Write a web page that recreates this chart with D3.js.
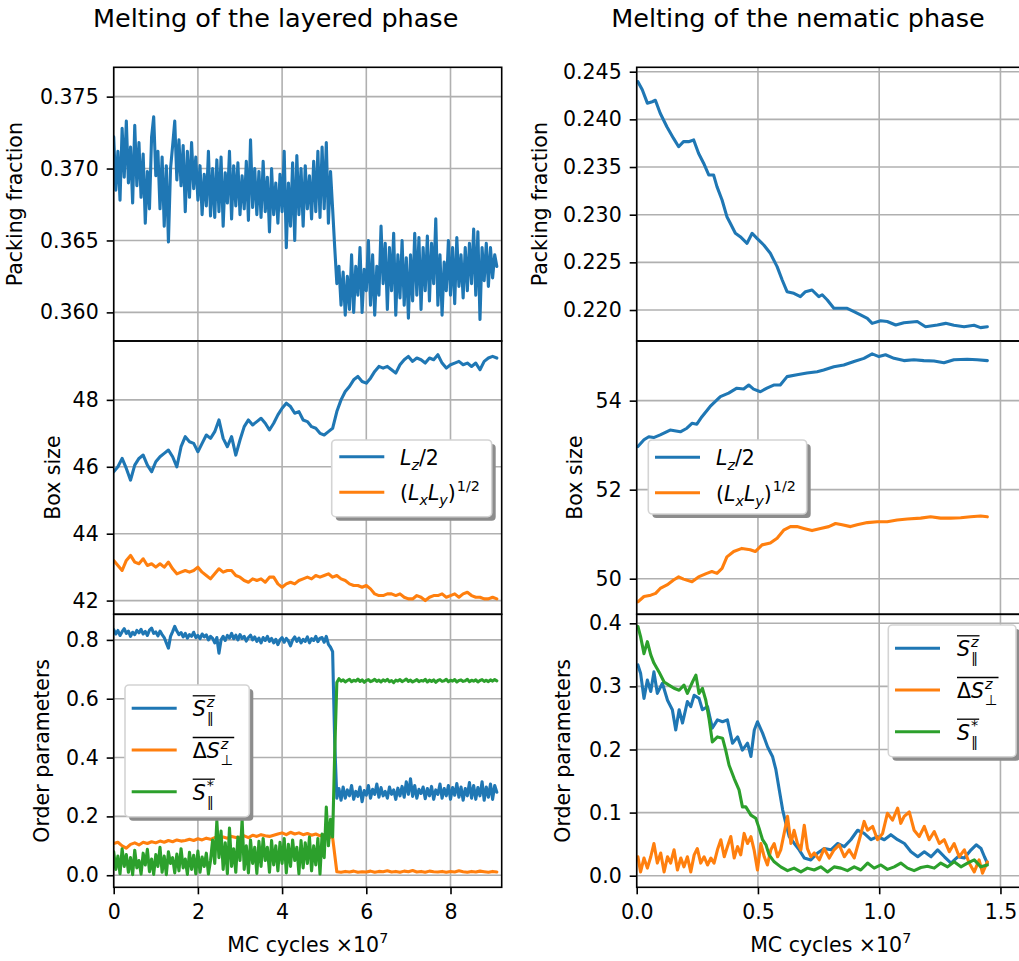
<!DOCTYPE html>
<html lang="en">
<head>
<meta charset="utf-8" />
<title>Melting of layered and nematic phases</title>
<script src="https://cdnjs.cloudflare.com/ajax/libs/d3/7.8.5/d3.min.js"></script>
<style>
  body { margin: 0; background: #ffffff; }
  svg text { font-family: "DejaVu Sans", sans-serif; fill: #000; }
</style>
</head>
<body>
<svg width="1019" height="961"></svg>
<script>
// ---------- data ----------
// layered phase: x in units of 1e7 MC cycles, sampled on regular grids
var layeredPackStep = 0.05;
var layeredPack = [
  0.3722,0.3685,0.3712,0.3678,0.3728,0.3694,0.3733,0.3690,0.3715,0.3676,
  0.3730,0.3688,0.3718,0.3680,0.3710,0.3662,0.3698,0.3672,0.3722,0.3736,
  0.3695,0.3712,0.3672,0.3708,0.3660,0.3702,0.3649,0.3700,0.3716,0.3733,
  0.3692,0.3720,0.3688,0.3716,0.3670,0.3712,0.3680,0.3718,0.3686,0.3708,
  0.3678,0.3702,0.3668,0.3696,0.3674,0.3712,0.3667,0.3700,0.3666,0.3706,
  0.3670,0.3708,0.3660,0.3697,0.3676,0.3712,0.3665,0.3702,0.3674,0.3704,
  0.3668,0.3695,0.3672,0.3705,0.3664,0.3720,0.3673,0.3700,0.3668,0.3698,
  0.3666,0.3705,0.3670,0.3694,0.3656,0.3700,0.3668,0.3690,0.3662,0.3696,
  0.3670,0.3712,0.3645,0.3690,0.3660,0.3704,0.3650,0.3709,0.3668,0.3700,
  0.3660,0.3702,0.3672,0.3695,0.3665,0.3705,0.3670,0.3712,0.3666,0.3715,
  0.3672,0.3718,0.3662,0.3698,0.3672,0.3645,0.3620,0.3632,0.3605,0.3628,
  0.3598,0.3625,0.3602,0.3640,0.3600,0.3632,0.3612,0.3645,0.3600,0.3630,
  0.3615,0.3650,0.3605,0.3640,0.3598,0.3632,0.3612,0.3660,0.3620,0.3648,
  0.3602,0.3645,0.3615,0.3655,0.3598,0.3640,0.3610,0.3650,0.3605,0.3638,
  0.3596,0.3640,0.3608,0.3655,0.3612,0.3652,0.3602,0.3645,0.3615,0.3653,
  0.3608,0.3648,0.3620,0.3665,0.3605,0.3640,0.3598,0.3635,0.3615,0.3650,
  0.3612,0.3645,0.3606,0.3652,0.3618,0.3640,0.3610,0.3645,0.3615,0.3648,
  0.3620,0.3658,0.3612,0.3656,0.3595,0.3645,0.3622,0.3648,0.3618,0.3645,
  0.3624,0.3640,0.3632
];

var layeredBoxStep = 0.1;
var layeredLz = [
  45.85,46.0,46.25,45.95,45.6,46.05,46.25,46.35,46.05,45.85,
  46.15,46.3,46.4,46.5,46.3,46.0,46.6,46.9,46.75,46.7,
  46.45,46.7,46.95,46.85,47.05,47.4,46.85,46.6,46.9,46.35,
  46.8,47.2,47.4,47.25,47.35,47.45,47.3,47.1,47.3,47.55,
  47.75,47.9,47.8,47.6,47.65,47.4,47.35,47.2,47.15,47.0,
  46.95,47.05,47.15,47.65,48.0,48.25,48.4,48.6,48.7,48.55,
  48.5,48.65,48.85,49.0,48.95,49.0,48.9,48.8,49.05,49.2,
  49.3,49.15,49.25,49.2,49.1,49.25,49.2,49.35,49.1,48.95,
  49.05,49.1,49.15,49.05,49.1,49.0,49.1,48.9,49.15,49.25,
  49.3,49.25
];
var layeredLxLy = [
  43.2,43.05,42.9,43.2,43.35,43.15,43.1,43.25,43.05,43.1,
  43.0,43.1,43.0,43.15,42.95,42.8,42.85,42.9,42.85,42.9,
  43.0,42.85,42.75,42.65,42.8,42.95,42.85,42.9,42.9,42.75,
  42.7,42.6,42.55,42.65,42.6,42.65,42.55,42.7,42.7,42.5,
  42.4,42.5,42.55,42.5,42.6,42.65,42.7,42.65,42.75,42.7,
  42.75,42.8,42.7,42.75,42.65,42.6,42.5,42.45,42.45,42.4,
  42.45,42.35,42.2,42.15,42.15,42.2,42.2,42.15,42.2,42.1,
  42.05,42.05,42.15,42.1,42.0,42.1,42.15,42.15,42.2,42.1,
  42.15,42.2,42.1,42.2,42.25,42.15,42.1,42.1,42.05,42.05,
  42.1,42.05
];

var layeredOrderStep = 0.05;
var layeredSpar = [
  0.835,0.820,0.832,0.815,0.828,0.838,0.822,0.830,0.812,0.826,
  0.818,0.832,0.824,0.836,0.820,0.829,0.815,0.833,0.840,0.822,
  0.827,0.814,0.830,0.818,0.808,0.790,0.772,0.812,0.828,0.846,
  0.830,0.818,0.825,0.810,0.822,0.806,0.818,0.812,0.826,0.808,
  0.815,0.804,0.820,0.810,0.817,0.800,0.812,0.805,0.790,0.808,
  0.755,0.800,0.812,0.798,0.815,0.806,0.822,0.804,0.816,0.800,
  0.818,0.805,0.812,0.796,0.808,0.816,0.800,0.810,0.795,0.806,
  0.790,0.808,0.798,0.812,0.795,0.805,0.790,0.802,0.784,0.800,
  0.808,0.792,0.805,0.796,0.780,0.800,0.810,0.795,0.806,0.790,
  0.802,0.795,0.810,0.790,0.804,0.798,0.812,0.794,0.806,0.808,
  0.792,0.812,0.785,0.775,0.760,0.450,0.262,0.295,0.255,0.300,
  0.262,0.290,0.270,0.305,0.258,0.285,0.268,0.300,0.250,0.288,
  0.272,0.305,0.262,0.292,0.275,0.310,0.265,0.298,0.270,0.285,
  0.262,0.300,0.275,0.290,0.258,0.296,0.270,0.302,0.265,0.318,
  0.275,0.328,0.268,0.305,0.262,0.292,0.278,0.300,0.260,0.295,
  0.270,0.302,0.258,0.290,0.275,0.310,0.262,0.295,0.270,0.305,
  0.258,0.298,0.272,0.312,0.265,0.300,0.255,0.295,0.270,0.315,
  0.262,0.305,0.258,0.298,0.270,0.318,0.255,0.300,0.265,0.310,
  0.258,0.305,0.282
];
var layeredDSperpStep = 0.1;
var layeredDSperp = [
  0.108,0.112,0.100,0.092,0.105,0.110,0.103,0.112,0.108,0.114,
  0.110,0.116,0.112,0.118,0.114,0.120,0.116,0.118,0.122,0.118,
  0.124,0.120,0.126,0.122,0.128,0.124,0.130,0.126,0.132,0.128,
  0.130,0.134,0.128,0.136,0.132,0.138,0.134,0.132,0.136,0.140,
  0.144,0.138,0.146,0.140,0.144,0.138,0.142,0.136,0.140,0.134,
  0.138,0.130,0.128,0.012,0.010,0.013,0.011,0.014,0.010,0.012,
  0.011,0.014,0.010,0.013,0.012,0.015,0.011,0.013,0.010,0.014,
  0.012,0.016,0.011,0.013,0.010,0.014,0.012,0.011,0.013,0.010,
  0.013,0.011,0.015,0.012,0.010,0.013,0.011,0.014,0.012,0.010,
  0.013,0.011
];
var layeredSstar = [
  0.080,0.020,0.065,0.005,0.090,0.030,0.070,0.010,0.060,0.002,
  0.085,0.025,0.050,0.004,0.075,0.035,0.088,0.012,0.055,0.003,
  0.070,0.030,0.095,0.010,0.065,0.002,0.080,0.040,0.060,0.008,
  0.072,0.015,0.090,0.025,0.055,0.003,0.078,0.020,0.068,0.005,
  0.082,0.010,0.062,0.030,0.075,0.004,0.050,0.120,0.040,0.185,
  0.060,0.150,0.020,0.110,0.005,0.160,0.030,0.090,0.010,0.130,
  0.050,0.190,0.020,0.100,0.008,0.120,0.040,0.095,0.006,0.115,
  0.030,0.125,0.050,0.095,0.010,0.118,0.035,0.100,0.015,0.112,
  0.040,0.125,0.008,0.105,0.030,0.120,0.050,0.095,0.005,0.118,
  0.025,0.110,0.040,0.130,0.015,0.100,0.035,0.125,0.004,0.140,
  0.060,0.232,0.100,0.190,0.130,0.420,0.655,
  0.668,0.660,0.664,0.657,0.662,0.666,0.658,0.663,0.660,0.667,
  0.659,0.664,0.656,0.662,0.665,0.658,0.661,0.666,0.659,0.663,
  0.657,0.664,0.660,0.666,0.658,0.662,0.655,0.663,0.660,0.665,
  0.658,0.662,0.667,0.659,0.663,0.657,0.661,0.665,0.658,0.662,
  0.660,0.666,0.657,0.663,0.659,0.664,0.656,0.662,0.665,0.659,
  0.661,0.666,0.658,0.663,0.660,0.665,0.657,0.662,0.664,0.659,
  0.661,0.666,0.658,0.663,0.660,0.664,0.657,0.662,0.665,0.659,
  0.663,0.658,0.664,0.660,0.665,0.661
];

// nematic phase: x in units of 1e7 MC cycles
var nemPackX = [0.005,0.023,0.044,0.064,0.077,0.097,0.125,0.152,0.173,0.193,0.214,0.235,0.255,0.276,0.297,
  0.317,0.331,0.352,0.372,0.386,0.407,0.427,0.455,0.476,0.496,0.524,0.551,0.579,0.6,0.62,0.648,0.675,0.696,
  0.723,0.751,0.765,0.786,0.813,0.841,0.868,0.896,0.923,0.951,0.971,1.006,1.033,1.068,1.102,1.157,1.191,
  1.24,1.274,1.308,1.35,1.391,1.418,1.446];
var nemPack = [0.24395,0.2431,0.2417,0.24185,0.2420,0.24064,0.2392,0.2380,0.23713,0.23766,0.23766,0.23784,
  0.23644,0.2354,0.23417,0.23417,0.23294,0.23154,0.22979,0.2291,0.22805,0.22769,0.2270,0.22805,0.22752,
  0.22682,0.22595,0.22455,0.22315,0.22192,0.22175,0.2214,0.22192,0.2221,0.2214,0.2216,0.22105,0.22018,
  0.22018,0.22018,0.21983,0.21948,0.21913,0.2186,0.21888,0.2188,0.21843,0.21867,0.2188,0.21825,0.21843,
  0.2186,0.2184,0.21825,0.2184,0.21815,0.21825];

var nemLzX = [0.005,0.03,0.05,0.07,0.097,0.138,0.18,0.207,0.228,0.248,0.269,0.303,0.345,0.379,0.413,0.441,
  0.462,0.482,0.51,0.537,0.565,0.592,0.62,0.661,0.702,0.744,0.771,0.813,0.854,0.896,0.937,0.971,0.999,
  1.026,1.061,1.102,1.143,1.184,1.226,1.267,1.308,1.363,1.404,1.446];
var nemLz = [52.97,53.12,53.19,53.17,53.23,53.34,53.3,53.38,53.49,53.47,53.64,53.87,54.09,54.17,54.28,
  54.26,54.35,54.26,54.2,54.28,54.35,54.35,54.54,54.58,54.62,54.65,54.69,54.76,54.8,54.88,54.95,55.05,
  54.99,55.03,54.95,54.9,54.92,54.9,54.89,54.85,54.92,54.93,54.92,54.9];

var nemLxLyX = [0.005,0.03,0.058,0.078,0.097,0.125,0.152,0.173,0.193,0.228,0.255,0.289,0.31,0.331,0.352,
  0.372,0.4,0.434,0.468,0.489,0.517,0.551,0.579,0.606,0.634,0.661,0.689,0.723,0.758,0.792,0.82,0.847,
  0.882,0.909,0.951,0.992,1.033,1.074,1.116,1.171,1.212,1.253,1.294,1.336,1.377,1.418,1.446];
var nemLxLy = [49.48,49.6,49.63,49.67,49.78,49.86,49.97,50.04,49.99,49.93,50.04,50.12,50.16,50.12,50.23,
  50.49,50.61,50.68,50.65,50.61,50.76,50.8,50.91,51.09,51.17,51.17,51.13,51.08,51.13,51.17,51.24,51.21,
  51.17,51.21,51.26,51.28,51.28,51.32,51.34,51.36,51.39,51.36,51.36,51.37,51.39,51.41,51.39];

var nemSparX = [0.005,0.016,0.03,0.044,0.058,0.071,0.085,0.106,0.127,0.147,0.161,0.175,0.189,0.209,0.223,
  0.237,0.257,0.271,0.292,0.312,0.333,0.354,0.374,0.395,0.416,0.436,0.457,0.471,0.485,0.498,0.519,0.54,
  0.56,0.574,0.588,0.602,0.615,0.629,0.65,0.67,0.691,0.718,0.746,0.773,0.801,0.828,0.856,0.883,0.911,
  0.938,0.966,0.993,1.021,1.048,1.076,1.104,1.131,1.159,1.186,1.214,1.241,1.269,1.296,1.324,1.351,1.379,
  1.4,1.42,1.434,1.446];
var nemSpar = [0.334,0.321,0.281,0.31,0.292,0.323,0.289,0.305,0.278,0.263,0.231,0.263,0.242,0.276,0.268,
  0.286,0.281,0.263,0.268,0.234,0.247,0.244,0.247,0.21,0.22,0.199,0.21,0.189,0.231,0.244,0.226,0.204,
  0.189,0.168,0.136,0.104,0.083,0.062,0.051,0.041,0.028,0.025,0.036,0.043,0.041,0.051,0.046,0.057,0.072,
  0.067,0.057,0.062,0.057,0.065,0.057,0.051,0.038,0.03,0.038,0.03,0.041,0.03,0.02,0.03,0.028,0.041,
  0.049,0.043,0.03,0.02];

var nemDSperpX = [0.005,0.016,0.03,0.044,0.058,0.071,0.085,0.099,0.113,0.127,0.14,0.154,0.168,0.182,0.195,
  0.209,0.223,0.237,0.25,0.264,0.278,0.292,0.306,0.319,0.333,0.347,0.361,0.374,0.388,0.402,0.416,0.429,
  0.443,0.457,0.471,0.484,0.498,0.512,0.526,0.539,0.553,0.567,0.581,0.594,0.608,0.622,0.636,0.649,0.663,
  0.677,0.691,0.704,0.718,0.732,0.753,0.773,0.794,0.814,0.835,0.856,0.876,0.897,0.918,0.938,0.952,0.973,
  0.993,1.014,1.034,1.055,1.076,1.089,1.103,1.124,1.144,1.165,1.186,1.206,1.227,1.248,1.268,1.289,1.309,
  1.33,1.351,1.371,1.392,1.412,1.426,1.446];
var nemDSperp = [0.03,0.006,0.028,0.012,0.03,0.051,0.02,0.036,0.006,0.03,0.02,0.041,0.009,0.028,0.014,
  0.03,0.006,0.033,0.043,0.02,0.03,0.017,0.028,0.02,0.041,0.057,0.03,0.046,0.062,0.028,0.046,0.033,0.067,
  0.051,0.062,0.041,0.009,0.051,0.03,0.017,0.041,0.051,0.03,0.041,0.067,0.094,0.051,0.072,0.051,0.041,
  0.08,0.043,0.03,0.036,0.025,0.043,0.028,0.041,0.049,0.03,0.041,0.028,0.057,0.086,0.072,0.078,0.057,
  0.067,0.099,0.088,0.107,0.083,0.094,0.101,0.072,0.062,0.078,0.057,0.07,0.051,0.057,0.038,0.051,0.03,
  0.041,0.02,0.006,0.025,0.004,0.022];

var nemSstarX = [0.005,0.016,0.03,0.044,0.058,0.071,0.092,0.113,0.133,0.154,0.175,0.195,0.209,0.23,0.244,
  0.257,0.271,0.285,0.299,0.312,0.333,0.354,0.367,0.381,0.402,0.422,0.436,0.45,0.471,0.491,0.505,0.519,
  0.533,0.546,0.567,0.594,0.622,0.649,0.677,0.704,0.732,0.759,0.787,0.814,0.842,0.869,0.897,0.924,0.952,
  0.979,1.007,1.034,1.062,1.089,1.117,1.144,1.172,1.199,1.227,1.254,1.282,1.309,1.337,1.364,1.392,1.419,
  1.446];
var nemSstar = [0.395,0.379,0.352,0.371,0.35,0.337,0.323,0.307,0.302,0.297,0.294,0.302,0.289,0.307,0.318,
  0.289,0.297,0.278,0.247,0.212,0.22,0.218,0.199,0.175,0.154,0.136,0.109,0.109,0.096,0.091,0.075,0.057,
  0.049,0.033,0.022,0.014,0.008,0.012,0.006,0.012,0.009,0.014,0.006,0.014,0.012,0.008,0.014,0.009,0.02,
  0.012,0.017,0.01,0.014,0.02,0.012,0.008,0.013,0.015,0.012,0.02,0.014,0.022,0.014,0.02,0.025,0.014,0.017];

// tick values
var layeredXTicks = [0, 2, 4, 6, 8];
var nemXTicks = [0, 0.5, 1.0, 1.5];
var layeredPackTicks = [0.360, 0.365, 0.370, 0.375];
var layeredBoxTicks = [42, 44, 46, 48];
var layeredOrderTicks = [0.0, 0.2, 0.4, 0.6, 0.8];
var nemPackTicks = [0.220, 0.225, 0.230, 0.235, 0.240, 0.245];
var nemBoxTicks = [50, 52, 54];
var nemOrderTicks = [0.0, 0.1, 0.2, 0.3, 0.4];

// ---------- drawing ----------
var BLUE = "#1f77b4", ORANGE = "#ff7f0e", GREEN = "#2ca02c";
var FS = 20.5, FSS = 14.3;

var svg = d3.select("svg");
var defs = svg.append("defs");

function onGrid(vals, step) { return vals.map(function(v, i) { return [i * step, v]; }); }

var cols = [
  {x0: 113.7, x1: 501.7, dom: [0, 9.216], ticks: layeredXTicks, fmt: d3.format("d"), title: "Melting of the layered phase", tx: 275.7},
  {x0: 636.7, x1: 1024.7, dom: [0, 1.6], ticks: nemXTicks, fmt: d3.format(".1f"), title: "Melting of the nematic phase", tx: 798}
];
var rows = [[67.3, 341], [341, 614.3], [614.3, 887.3]];

var panels = [
  {col: 0, row: 0, dom: [0.35801, 0.37704], ticks: layeredPackTicks, fmt: ".3f", label: "Packing fraction", lx: 21.5,
   series: [{pts: onGrid(layeredPack, layeredPackStep), c: BLUE}]},
  {col: 0, row: 1, dom: [41.59, 49.76], ticks: layeredBoxTicks, fmt: "d", label: "Box size", lx: 60,
   series: [{pts: onGrid(layeredLz, layeredBoxStep), c: BLUE}, {pts: onGrid(layeredLxLy, layeredBoxStep), c: ORANGE}]},
  {col: 0, row: 2, dom: [-0.041, 0.887], ticks: layeredOrderTicks, fmt: ".1f", label: "Order parameters", lx: 48.6,
   series: [{pts: onGrid(layeredSpar, layeredOrderStep), c: BLUE}, {pts: onGrid(layeredDSperp, layeredDSperpStep), c: ORANGE},
            {pts: onGrid(layeredSstar, layeredOrderStep), c: GREEN}]},
  {col: 1, row: 0, dom: [0.21675, 0.24546], ticks: nemPackTicks, fmt: ".3f", label: "Packing fraction", lx: 547,
   series: [{pts: d3.zip(nemPackX, nemPack), c: BLUE}]},
  {col: 1, row: 1, dom: [49.2, 55.34], ticks: nemBoxTicks, fmt: "d", label: "Box size", lx: 581.7,
   series: [{pts: d3.zip(nemLzX, nemLz), c: BLUE}, {pts: d3.zip(nemLxLyX, nemLxLy), c: ORANGE}]},
  {col: 1, row: 2, dom: [-0.0184, 0.4143], ticks: nemOrderTicks, fmt: ".1f", label: "Order parameters", lx: 570.3,
   series: [{pts: d3.zip(nemSparX, nemSpar), c: BLUE}, {pts: d3.zip(nemDSperpX, nemDSperp), c: ORANGE},
            {pts: d3.zip(nemSstarX, nemSstar), c: GREEN}]}
];

panels.forEach(function(p, i) {
  var c = cols[p.col], r = rows[p.row];
  var x = d3.scaleLinear().domain(c.dom).range([c.x0, c.x1]);
  var y = d3.scaleLinear().domain(p.dom).range([r[1], r[0]]);

  defs.append("clipPath").attr("id", "clip" + i)
    .append("rect").attr("x", c.x0).attr("y", r[0]).attr("width", c.x1 - c.x0).attr("height", r[1] - r[0]);

  var g = svg.append("g");
  var inner = g.append("g").attr("clip-path", "url(#clip" + i + ")");

  // grid
  inner.selectAll(".gx").data(c.ticks).join("line")
    .attr("x1", function(d) { return x(d); }).attr("x2", function(d) { return x(d); })
    .attr("y1", r[0]).attr("y2", r[1])
    .attr("stroke", "#b0b0b0").attr("stroke-width", 1.6);
  inner.selectAll(".gy").data(p.ticks).join("line")
    .attr("x1", c.x0).attr("x2", c.x1)
    .attr("y1", function(d) { return y(d); }).attr("y2", function(d) { return y(d); })
    .attr("stroke", "#b0b0b0").attr("stroke-width", 1.6);

  // lines
  var line = d3.line().x(function(d) { return x(d[0]); }).y(function(d) { return y(d[1]); });
  p.series.forEach(function(s) {
    inner.append("path").datum(s.pts).attr("d", line)
      .attr("fill", "none").attr("stroke", s.c).attr("stroke-width", 3.1)
      .attr("stroke-linejoin", "round").attr("stroke-linecap", "round");
  });

  // frame
  g.append("rect").attr("x", c.x0).attr("y", r[0]).attr("width", c.x1 - c.x0).attr("height", r[1] - r[0])
    .attr("fill", "none").attr("stroke", "#000").attr("stroke-width", 1.6);

  // y axis
  var ya = g.append("g").attr("transform", "translate(" + c.x0 + ",0)")
    .call(d3.axisLeft(y).tickValues(p.ticks).tickFormat(d3.format(p.fmt)).tickSize(7).tickPadding(8));
  ya.select(".domain").remove();
  ya.attr("font-family", "DejaVu Sans").attr("font-size", FS);
  ya.selectAll("line").attr("stroke-width", 1.6);

  // y label
  g.append("text")
    .attr("transform", "translate(" + p.lx + "," + ((r[0] + r[1]) / 2) + ") rotate(-90)")
    .attr("text-anchor", "middle").attr("font-size", FS).text(p.label);

  // bottom row: x axis + label
  if (p.row === 2) {
    var xa = g.append("g").attr("transform", "translate(0," + r[1] + ")")
      .call(d3.axisBottom(x).tickValues(c.ticks).tickFormat(c.fmt).tickSize(7).tickPadding(10));
    xa.select(".domain").remove();
    xa.attr("font-family", "DejaVu Sans").attr("font-size", FS);
    xa.selectAll("line").attr("stroke-width", 1.6);

    var xl = g.append("text").attr("x", (c.x0 + c.x1) / 2).attr("y", 951.7)
      .attr("text-anchor", "middle").attr("font-size", FS);
    xl.append("tspan").text("MC cycles \u00d710");
    xl.append("tspan").attr("dy", -9).attr("font-size", FSS).text("7");
  }
  if (p.row === 0) {
    svg.append("text").attr("x", c.tx).attr("y", 27).attr("text-anchor", "middle")
      .attr("font-size", 25.5).text(c.title);
  }
});

// ---------- legends ----------
function mathLabel(g, x0, base, parts, over) {
  var cx = x0, scriptX = x0;
  parts.forEach(function(p) {
    var script = p.s === "sup" || p.s === "sub";
    var dy = 0;
    if (p.s === "sup") dy = -9.5;
    if (p.s === "sub") dy = p.stack ? 7 : 5;
    var px = p.stack ? scriptX : cx + (p.s === "sup" ? 1 : 0);
    var t = g.append("text").attr("x", px).attr("y", base + dy)
      .attr("font-size", script ? FSS : FS)
      .attr("font-style", p.it ? "italic" : "normal").text(p.t);
    var w = t.node().getComputedTextLength();
    if (script && !p.stack) scriptX = px;
    cx = Math.max(cx, px + w);
  });
  if (over) {
    g.append("line").attr("x1", x0).attr("x2", cx + 1)
      .attr("y1", base - 20.5).attr("y2", base - 20.5)
      .attr("stroke", "#000").attr("stroke-width", 1.3);
  }
}

var lzLabel = [{t: "L", it: 1}, {t: "z", it: 1, s: "sub"}, {t: "/2"}];
var lxlyLabel = [{t: "("}, {t: "L", it: 1}, {t: "x", it: 1, s: "sub"}, {t: "L", it: 1}, {t: "y", it: 1, s: "sub"},
                 {t: ")"}, {t: "1/2", s: "sup"}];
var sparLabel = [{t: "S", it: 1}, {t: "z", it: 1, s: "sup"}, {t: "\u2225", s: "sub", stack: 1}];
var dsperpLabel = [{t: "\u0394"}, {t: "S", it: 1}, {t: "z", it: 1, s: "sup"}, {t: "\u22a5", s: "sub", stack: 1}];
var sstarLabel = [{t: "S", it: 1}, {t: "*", s: "sup"}, {t: "\u2225", s: "sub", stack: 1}];

var boxItems = [{c: BLUE, parts: lzLabel}, {c: ORANGE, parts: lxlyLabel}];
var orderItems = [{c: BLUE, parts: sparLabel, over: 1}, {c: ORANGE, parts: dsperpLabel, over: 1},
                  {c: GREEN, parts: sstarLabel, over: 1}];

var legends = [
  {x: 331.7, y: 440, w: 160, h: 76.7, lx: 339.3, tx: 400, ys: [456.7, 492.3], items: boxItems},
  {x: 648.3, y: 440, w: 158.4, h: 74, lx: 655, tx: 716, ys: [457.3, 492.7], items: boxItems},
  {x: 125, y: 685, w: 124.3, h: 131.7, lx: 131.7, tx: 192.7, ys: [708.3, 750, 791.7], items: orderItems},
  {x: 888.3, y: 625, w: 127.7, h: 131.7, lx: 895, tx: 957, ys: [648.3, 690, 731.7], items: orderItems}
];

legends.forEach(function(L) {
  var g = svg.append("g");
  g.append("rect").attr("x", L.x + 4).attr("y", L.y + 4).attr("width", L.w).attr("height", L.h)
    .attr("rx", 4).attr("fill", "#8c8c8c");
  g.append("rect").attr("x", L.x).attr("y", L.y).attr("width", L.w).attr("height", L.h)
    .attr("rx", 4).attr("fill", "#ffffff").attr("stroke", "#d4d4d4").attr("stroke-width", 1.6);
  L.items.forEach(function(it, k) {
    var ly = L.ys[k];
    g.append("line").attr("x1", L.lx).attr("x2", L.lx + 45).attr("y1", ly).attr("y2", ly)
      .attr("stroke", it.c).attr("stroke-width", 3);
    mathLabel(g, L.tx, ly + 8, it.parts, it.over);
  });
});
</script>
</body>
</html>
